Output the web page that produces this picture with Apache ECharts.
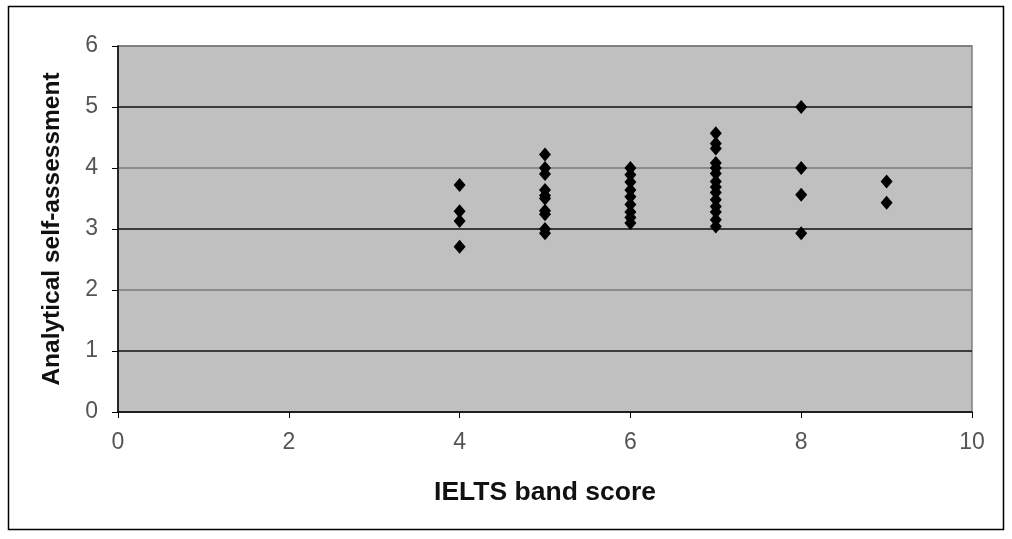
<!DOCTYPE html>
<html><head><meta charset="utf-8">
<script src="https://cdn.jsdelivr.net/npm/echarts@6/dist/echarts.min.js"></script>
<style>html,body{margin:0;padding:0;background:#fff}#c{width:1012px;height:539px}</style>
</head><body><div id="c"></div>
<script>
const band4 = [3.72, 3.29, 3.13, 2.71];
const band5 = [4.22, 4.0, 3.9, 3.64, 3.55, 3.5, 3.3, 3.24, 3.0, 2.93];
const band6 = [4.0, 3.89, 3.77, 3.64, 3.53, 3.4, 3.28, 3.19, 3.1];
const band7 = [4.57, 4.4, 4.32, 4.08, 4.0, 3.91, 3.78, 3.69, 3.6, 3.48, 3.37, 3.28, 3.15, 3.04];
const band8 = [5.0, 4.0, 3.56, 2.93];
const band9 = [3.78, 3.43];
const bands = [[4, band4], [5, band5], [6, band6], [7, band7], [8, band8], [9, band9]];
const points = [];
bands.forEach(([x, ys]) => ys.forEach(y => points.push([x, y])));

const chart = echarts.init(document.getElementById('c'));
const font = 'Liberation Sans, Arial, sans-serif';
chart.setOption({
  animation: false,
  graphic: [{type: 'rect', shape: {x: 8.5, y: 6.5, width: 995, height: 523}, style: {fill: 'none', stroke: '#000', lineWidth: 1.5}}],
  grid: {left: 118, right: 40, top: 46, bottom: 127, show: true, backgroundColor: '#c0c0c0', borderColor: '#808080', borderWidth: 1.5},
  xAxis: {
    type: 'value', min: 0, max: 10, interval: 2,
    name: 'IELTS band score', nameLocation: 'middle', nameGap: 67,
    nameTextStyle: {fontFamily: font, fontSize: 26.5, fontWeight: 'bold', color: '#111'},
    axisLine: {lineStyle: {color: '#000', width: 1.5}},
    axisTick: {show: true, length: 6, lineStyle: {color: '#000'}},
    axisLabel: {fontFamily: font, fontSize: 23, color: '#555', margin: 19},
    splitLine: {show: false}
  },
  yAxis: {
    type: 'value', min: 0, max: 6, interval: 1,
    name: 'Analytical self-assessment', nameLocation: 'middle', nameGap: 53,
    nameTextStyle: {fontFamily: font, fontSize: 24.5, fontWeight: 'bold', color: '#111'},
    axisLine: {show: true, lineStyle: {color: '#000', width: 1.5}},
    axisTick: {show: true, length: 6, lineStyle: {color: '#000'}},
    axisLabel: {fontFamily: font, fontSize: 23, color: '#555', margin: 20},
    splitLine: {show: true, lineStyle: {color: ['#7a7a7a', '#111'], width: 1.6}}
  },
  series: [{
    type: 'scatter', data: points,
    symbol: 'diamond', symbolSize: [12, 14],
    itemStyle: {color: '#000', opacity: 1}
  }]
});
</script></body></html>
